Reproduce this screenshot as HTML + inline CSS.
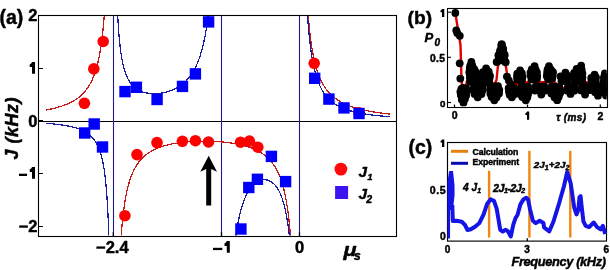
<!DOCTYPE html>
<html><head><meta charset="utf-8"><style>
html,body{margin:0;padding:0;background:#fff;width:610px;height:270px;overflow:hidden}
svg{display:block;will-change:transform}
text{stroke:#000;stroke-width:0.45px;stroke-linejoin:round}
</style></head><body>
<svg width="610" height="270" viewBox="0 0 610 270">
<rect width="610" height="270" fill="#fff"/>
<rect x="38.5" y="15.5" width="358" height="221" fill="none" stroke="#000" stroke-width="1.1"/>
<line x1="38.5" y1="121.5" x2="396.5" y2="121.5" stroke="#000" stroke-width="1.1"/>
<line x1="38.5" y1="68.5" x2="43" y2="68.5" stroke="#000" stroke-width="1"/>
<line x1="38.5" y1="173.5" x2="43" y2="173.5" stroke="#000" stroke-width="1"/>
<line x1="38.5" y1="226.5" x2="43" y2="226.5" stroke="#000" stroke-width="1"/>
<line x1="38.5" y1="121" x2="43" y2="121" stroke="#000" stroke-width="2"/>
<line x1="113.5" y1="15.5" x2="113.5" y2="236.5" stroke="#1e1a8c" stroke-width="1.1"/>
<line x1="221.5" y1="15.5" x2="221.5" y2="236.5" stroke="#1e1a8c" stroke-width="1.1"/>
<line x1="299.5" y1="15.5" x2="299.5" y2="236.5" stroke="#1e1a8c" stroke-width="1.1"/>
<line x1="113.3" y1="232.3" x2="113.3" y2="236.5" stroke="#000" stroke-width="1.3"/>
<line x1="221.5" y1="232.3" x2="221.5" y2="236.5" stroke="#000" stroke-width="1.3"/>
<line x1="299.5" y1="232.3" x2="299.5" y2="236.5" stroke="#000" stroke-width="1.3"/>
<defs><clipPath id="ca"><rect x="38.8" y="16" width="357" height="219.6"/></clipPath></defs>
<g clip-path="url(#ca)"><path d="M45.77,110.12 L46.76,109.93 L47.75,109.73 L48.73,109.53 L49.72,109.33 L50.71,109.11 L51.69,108.89 L52.68,108.66 L53.67,108.42 L54.64,108.18 L55.61,107.93 L56.58,107.67 L57.55,107.39 L58.52,107.11 L59.49,106.82 L60.46,106.52 L61.41,106.21 L62.37,105.89 L63.32,105.55 L64.27,105.20 L65.21,104.85 L66.15,104.47 L67.09,104.08 L68.01,103.69 L68.93,103.27 L69.85,102.84 L70.75,102.39 L71.65,101.92 L72.54,101.45 L73.43,100.94 L74.30,100.43 L75.15,99.90 L76.00,99.35 L76.84,98.78 L77.66,98.19 L78.46,97.59 L79.25,96.97 L80.03,96.32 L80.80,95.66 L81.56,94.97 L82.29,94.27 L83.01,93.55 L83.71,92.81 L84.40,92.05 L85.07,91.27 L85.70,90.49 L86.32,89.70 L86.93,88.90 L87.51,88.07 L88.08,87.24 L88.63,86.39 L89.17,85.52 L89.69,84.65 L90.19,83.76 L90.67,82.86 L91.14,81.96 L91.59,81.05 L92.03,80.14 L92.45,79.22 L92.85,78.30 L93.25,77.35 L93.63,76.39 L94.00,75.45 L94.35,74.50 L94.71,73.52 L95.04,72.56 L95.36,71.60 L95.68,70.61 L95.98,69.63 L96.28,68.62 L96.56,67.63 L96.83,66.67 L97.10,65.67 L97.36,64.64 L97.62,63.64 L97.87,62.60 L98.10,61.60 L98.34,60.57 L98.55,59.58 L98.77,58.56 L98.99,57.51 L99.19,56.51 L99.39,55.48 L99.59,54.41 L99.77,53.41 L99.96,52.38 L100.14,51.31 L100.31,50.32 L100.48,49.29 L100.64,48.24 L100.81,47.16 L100.96,46.16 L101.11,45.14 L101.26,44.08 L101.41,43.00 L101.56,41.89 L101.70,40.88 L101.83,39.84 L101.97,38.78 L102.10,37.69 L102.23,36.57 L102.35,35.57 L102.47,34.54 L102.58,33.49 L102.70,32.42 L102.82,31.32 L102.94,30.19 L103.05,29.04 L103.15,28.03 L103.25,26.99 L103.35,25.94 L103.45,24.86 L103.55,23.76 L103.66,22.63 L103.76,21.48 L103.86,20.30 L103.94,19.29 L104.02,18.27 L104.11,17.23 L104.19,16.17 L104.27,15.08 L104.36,13.98 L104.44,12.85 L104.53,11.70 L104.61,10.52 L104.69,9.32 L104.78,8.09 L104.84,7.09 L104.91,6.08 L104.98,5.04 L105.04,3.99 L105.11,2.92 L105.18,1.83 L105.24,0.72 L105.31,-0.41 L105.38,-1.56 L105.45,-2.74 L105.51,-3.93 L105.58,-5.00 M119.60,259.90 L119.69,258.12 L119.78,256.38 L119.88,254.69 L119.97,253.05 L120.06,251.44 L120.16,249.88 L120.25,248.35 L120.34,246.86 L120.44,245.41 L120.53,243.99 L120.62,242.61 L120.72,241.25 L120.81,239.93 L120.90,238.64 L121.00,237.38 L121.09,236.15 L121.18,234.94 L121.28,233.76 L121.37,232.60 L121.47,231.47 L121.56,230.37 L121.65,229.28 L121.75,228.22 L121.84,227.18 L121.93,226.16 L122.03,225.17 L122.17,223.71 L122.31,222.29 L122.45,220.91 L122.59,219.57 L122.73,218.27 L122.87,217.01 L123.01,215.78 L123.15,214.58 L123.29,213.42 L123.43,212.28 L123.57,211.18 L123.71,210.10 L123.85,209.05 L123.99,208.03 L124.13,207.03 L124.31,205.74 L124.50,204.48 L124.69,203.27 L124.87,202.10 L125.06,200.96 L125.25,199.85 L125.43,198.78 L125.62,197.73 L125.81,196.72 L125.99,195.74 L126.23,194.55 L126.46,193.40 L126.69,192.28 L126.93,191.21 L127.16,190.17 L127.39,189.16 L127.63,188.19 L127.91,187.05 L128.19,185.97 L128.47,184.92 L128.75,183.90 L129.03,182.92 L129.36,181.82 L129.68,180.77 L130.01,179.75 L130.34,178.77 L130.71,177.70 L131.08,176.67 L131.46,175.68 L131.83,174.74 L132.25,173.71 L132.67,172.73 L133.09,171.80 L133.56,170.80 L134.02,169.85 L134.49,168.93 L135.00,167.98 L135.52,167.06 L136.03,166.19 L136.59,165.28 L137.15,164.42 L137.76,163.53 L138.37,162.68 L138.97,161.87 L139.63,161.05 L140.28,160.26 L140.98,159.46 L141.68,158.70 L142.38,157.97 L143.13,157.24 L143.88,156.54 L144.67,155.84 L145.46,155.18 L146.26,154.54 L147.10,153.91 L147.94,153.31 L148.78,152.73 L149.62,152.19 L150.50,151.64 L151.39,151.12 L152.28,150.63 L153.17,150.16 L154.10,149.69 L155.03,149.25 L155.97,148.82 L156.90,148.42 L157.83,148.04 L158.77,147.67 L159.75,147.30 L160.73,146.96 L161.71,146.62 L162.69,146.31 L163.67,146.01 L164.65,145.72 L165.63,145.45 L166.61,145.19 L167.59,144.94 L168.57,144.70 L169.55,144.48 L170.53,144.26 L171.51,144.06 L172.54,143.85 L173.57,143.66 L174.60,143.48 L175.62,143.30 L176.65,143.13 L177.68,142.98 L178.70,142.83 L179.73,142.69 L180.76,142.55 L181.79,142.43 L182.81,142.31 L183.84,142.20 L184.87,142.09 L185.89,141.99 L186.92,141.90 L187.95,141.81 L188.98,141.73 L190.00,141.66 L191.03,141.59 L192.06,141.53 L193.08,141.47 L194.11,141.42 L195.14,141.38 L196.17,141.34 L197.19,141.30 L198.22,141.27 L199.25,141.24 L200.27,141.22 L201.30,141.21 L202.33,141.20 L203.36,141.19 L204.38,141.19 L205.41,141.20 L206.44,141.21 L207.46,141.22 L208.49,141.24 L209.52,141.27 L210.55,141.30 L211.57,141.33 L212.60,141.37 L213.63,141.42 L214.65,141.47 L215.68,141.52 L216.71,141.58 L217.74,141.65 L218.76,141.72 L219.79,141.80 L220.82,141.88 L221.84,141.97 L222.87,142.06 L223.90,142.16 L224.93,142.27 L225.95,142.38 L226.98,142.50 L228.01,142.63 L229.03,142.76 L230.06,142.90 L231.09,143.05 L232.12,143.20 L233.14,143.37 L234.17,143.54 L235.20,143.72 L236.22,143.91 L237.25,144.11 L238.23,144.30 L239.21,144.51 L240.19,144.73 L241.17,144.95 L242.15,145.19 L243.13,145.44 L244.11,145.70 L245.09,145.97 L246.07,146.25 L247.06,146.55 L248.04,146.86 L249.02,147.18 L250.00,147.53 L250.98,147.88 L251.96,148.26 L252.89,148.63 L253.82,149.02 L254.76,149.43 L255.69,149.86 L256.63,150.31 L257.56,150.78 L258.45,151.25 L259.33,151.74 L260.22,152.26 L261.11,152.81 L262.00,153.38 L262.84,153.95 L263.68,154.55 L264.52,155.17 L265.31,155.80 L266.10,156.45 L266.90,157.14 L267.64,157.82 L268.39,158.54 L269.14,159.29 L269.84,160.03 L270.54,160.81 L271.19,161.58 L271.85,162.38 L272.50,163.22 L273.11,164.04 L273.71,164.89 L274.27,165.73 L274.83,166.59 L275.39,167.51 L275.91,168.38 L276.42,169.29 L276.94,170.25 L277.40,171.16 L277.87,172.11 L278.34,173.10 L278.76,174.03 L279.18,175.00 L279.60,176.02 L279.97,176.95 L280.34,177.93 L280.72,178.94 L281.09,180.00 L281.42,180.96 L281.74,181.96 L282.07,182.99 L282.40,184.07 L282.72,185.18 L283.00,186.18 L283.28,187.21 L283.57,188.27 L283.85,189.37 L284.13,190.52 L284.36,191.51 L284.59,192.52 L284.83,193.57 L285.06,194.66 L285.29,195.78 L285.53,196.94 L285.76,198.14 L285.95,199.13 L286.13,200.14 L286.32,201.19 L286.51,202.27 L286.69,203.38 L286.88,204.52 L287.07,205.70 L287.25,206.91 L287.44,208.16 L287.63,209.45 L287.77,210.45 L287.91,211.47 L288.05,212.51 L288.19,213.58 L288.33,214.68 L288.47,215.81 L288.61,216.97 L288.75,218.15 L288.89,219.37 L289.03,220.62 L289.17,221.91 L289.31,223.23 L289.45,224.59 L289.59,225.99 L289.73,227.43 L289.87,228.91 L289.96,229.92 L290.05,230.95 L290.15,232.00 L290.24,233.08 L290.33,234.17 L290.43,235.29 L290.52,236.44 L290.61,237.60 L290.71,238.80 L290.80,240.02 L290.90,241.26 L290.99,242.53 L291.08,243.84 L291.18,245.17 L291.27,246.53 L291.36,247.92 L291.46,249.35 L291.55,250.81 L291.64,252.30 L291.74,253.84 L291.83,255.41 L291.92,257.02 L292.02,258.67 L292.11,260.00 M306.86,-4.90 L306.93,-3.72 L307.00,-2.56 L307.07,-1.42 L307.14,-0.30 L307.20,0.80 L307.27,1.88 L307.34,2.94 L307.41,3.98 L307.48,5.01 L307.54,6.02 L307.63,7.33 L307.73,8.63 L307.82,9.89 L307.91,11.12 L308.00,12.33 L308.09,13.52 L308.18,14.68 L308.27,15.81 L308.36,16.93 L308.45,18.02 L308.54,19.08 L308.63,20.13 L308.72,21.16 L308.81,22.17 L308.93,23.40 L309.04,24.60 L309.15,25.78 L309.27,26.93 L309.38,28.05 L309.49,29.15 L309.61,30.22 L309.72,31.27 L309.83,32.29 L309.95,33.30 L310.08,34.48 L310.22,35.62 L310.35,36.74 L310.49,37.83 L310.63,38.90 L310.76,39.94 L310.90,40.95 L311.06,42.10 L311.22,43.23 L311.37,44.32 L311.53,45.38 L311.69,46.42 L311.85,47.43 L312.03,48.55 L312.21,49.64 L312.39,50.70 L312.57,51.74 L312.76,52.74 L312.96,53.84 L313.16,54.90 L313.37,55.93 L313.57,56.94 L313.80,58.02 L314.03,59.06 L314.25,60.08 L314.48,61.06 L314.73,62.11 L314.98,63.13 L315.23,64.11 L315.50,65.15 L315.77,66.15 L316.04,67.12 L316.34,68.14 L316.63,69.12 L316.95,70.14 L317.27,71.12 L317.58,72.07 L317.92,73.05 L318.26,74.00 L318.63,74.97 L318.99,75.90 L319.37,76.86 L319.78,77.83 L320.19,78.76 L320.62,79.71 L321.05,80.62 L321.50,81.54 L321.98,82.46 L322.46,83.34 L322.95,84.23 L323.48,85.12 L324.02,86.01 L324.56,86.86 L325.13,87.71 L325.72,88.55 L326.33,89.38 L326.94,90.18 L327.58,90.96 L328.24,91.74 L328.91,92.51 L329.59,93.25 L330.30,93.97 L331.02,94.69 L331.77,95.39 L332.52,96.06 L333.29,96.72 L334.08,97.37 L334.88,97.99 L335.69,98.59 L336.51,99.17 L337.35,99.74 L338.18,100.29 L339.05,100.83 L339.91,101.34 L340.79,101.84 L341.67,102.32 L342.58,102.80 L343.49,103.25 L344.39,103.68 L345.32,104.11 L346.25,104.52 L347.18,104.91 L348.11,105.29 L349.06,105.67 L350.01,106.02 L350.97,106.37 L351.92,106.70 L352.87,107.02 L353.82,107.33 L354.80,107.63 L355.77,107.93 L356.75,108.21 L357.72,108.49 L358.69,108.75 L359.67,109.01 L360.64,109.25 L361.62,109.49 L362.59,109.72 L363.57,109.95 L364.56,110.17 L365.56,110.39 L366.56,110.60 L367.56,110.80 L368.55,111.00 L369.55,111.19 L370.55,111.37 L371.54,111.55 L372.54,111.73 L373.54,111.90 L374.54,112.06 L375.53,112.22 L376.53,112.38 L377.53,112.53 L378.52,112.68 L379.52,112.83 L380.52,112.97 L381.52,113.11 L382.51,113.24 L383.51,113.37 L384.51,113.50 L385.50,113.63 L386.50,113.75 L387.50,113.87 L388.50,113.98 L389.49,114.10 L390.04,114.16" fill="none" stroke="#c41a1a" stroke-width="1.25" shape-rendering="crispEdges"/>
<path d="M45.77,123.29 L46.78,123.36 L47.78,123.44 L48.78,123.52 L49.79,123.61 L50.79,123.70 L51.79,123.79 L52.80,123.88 L53.80,123.98 L54.81,124.09 L55.81,124.20 L56.81,124.31 L57.82,124.43 L58.82,124.55 L59.82,124.68 L60.83,124.82 L61.83,124.96 L62.84,125.11 L63.84,125.26 L64.83,125.43 L65.81,125.59 L66.80,125.77 L67.79,125.96 L68.77,126.16 L69.76,126.36 L70.75,126.58 L71.74,126.81 L72.72,127.05 L73.69,127.31 L74.66,127.57 L75.63,127.86 L76.60,128.16 L77.56,128.47 L78.51,128.80 L79.46,129.16 L80.40,129.53 L81.34,129.92 L82.26,130.34 L83.16,130.77 L84.07,131.23 L84.95,131.72 L85.82,132.23 L86.67,132.77 L87.51,133.33 L88.33,133.93 L89.13,134.55 L89.90,135.20 L90.66,135.87 L91.39,136.58 L92.10,137.31 L92.78,138.07 L93.43,138.85 L94.05,139.64 L94.65,140.46 L95.22,141.29 L95.78,142.16 L96.29,143.02 L96.80,143.92 L97.26,144.81 L97.72,145.72 L98.15,146.65 L98.57,147.60 L98.95,148.53 L99.32,149.47 L99.67,150.42 L100.01,151.37 L100.33,152.33 L100.64,153.34 L100.95,154.34 L101.23,155.34 L101.50,156.33 L101.75,157.30 L102.00,158.31 L102.23,159.31 L102.47,160.35 L102.68,161.36 L102.90,162.41 L103.10,163.43 L103.30,164.49 L103.49,165.51 L103.67,166.57 L103.84,167.57 L104.01,168.60 L104.17,169.68 L104.32,170.69 L104.47,171.74 L104.63,172.83 L104.76,173.83 L104.89,174.86 L105.03,175.93 L105.16,177.05 L105.28,178.05 L105.40,179.09 L105.51,180.16 L105.63,181.27 L105.75,182.41 L105.85,183.43 L105.95,184.47 L106.05,185.55 L106.15,186.65 L106.25,187.80 L106.35,188.98 L106.43,189.99 L106.52,191.03 L106.60,192.10 L106.68,193.20 L106.77,194.33 L106.85,195.49 L106.93,196.69 L107.02,197.92 L107.08,198.94 L107.15,199.97 L107.22,201.04 L107.29,202.13 L107.35,203.25 L107.42,204.39 L107.49,205.57 L107.55,206.77 L107.62,208.01 L107.69,209.28 L107.75,210.59 L107.80,211.59 L107.85,212.62 L107.90,213.66 L107.95,214.73 L108.00,215.82 L108.05,216.94 L108.11,218.08 L108.16,219.24 L108.21,220.43 L108.26,221.65 L108.31,222.90 L108.36,224.17 L108.41,225.48 L108.46,226.82 L108.51,228.19 L108.56,229.59 L108.61,231.02 L108.66,232.50 L108.69,233.50 L108.72,234.52 L108.76,235.56 L108.79,236.61 L108.82,237.69 L108.86,238.78 L108.89,239.89 L108.92,241.02 L108.96,242.17 L108.99,243.35 L109.03,244.54 L109.06,245.76 L109.09,246.99 L109.13,248.26 L109.16,249.54 L109.19,250.86 L109.23,252.19 L109.26,253.56 L109.29,254.95 L109.33,256.36 L109.36,257.81 L109.39,259.29 L109.41,260.00 M116.83,-4.53 L116.88,-3.03 L116.94,-1.56 L116.99,-0.14 L117.05,1.25 L117.10,2.61 L117.15,3.93 L117.21,5.22 L117.26,6.48 L117.32,7.71 L117.37,8.91 L117.43,10.09 L117.48,11.24 L117.54,12.36 L117.59,13.45 L117.64,14.53 L117.70,15.57 L117.75,16.60 L117.81,17.60 L117.89,19.07 L117.97,20.49 L118.05,21.87 L118.13,23.20 L118.22,24.50 L118.30,25.76 L118.38,26.98 L118.46,28.17 L118.54,29.32 L118.62,30.44 L118.71,31.53 L118.79,32.60 L118.87,33.63 L118.95,34.64 L119.06,35.94 L119.17,37.19 L119.28,38.41 L119.39,39.58 L119.50,40.72 L119.60,41.82 L119.71,42.89 L119.82,43.92 L119.93,44.92 L120.07,46.13 L120.20,47.30 L120.34,48.42 L120.48,49.51 L120.61,50.55 L120.75,51.56 L120.91,52.73 L121.08,53.85 L121.24,54.93 L121.40,55.97 L121.57,56.97 L121.76,58.08 L121.95,59.15 L122.14,60.18 L122.33,61.16 L122.55,62.24 L122.76,63.27 L122.98,64.26 L123.23,65.32 L123.47,66.32 L123.74,67.39 L124.02,68.40 L124.29,69.37 L124.59,70.38 L124.89,71.33 L125.21,72.32 L125.57,73.33 L125.92,74.29 L126.30,75.25 L126.71,76.23 L127.12,77.15 L127.56,78.07 L128.02,78.98 L128.51,79.89 L129.03,80.78 L129.57,81.66 L130.14,82.51 L130.74,83.34 L131.37,84.14 L132.02,84.92 L132.70,85.66 L133.41,86.37 L134.15,87.05 L134.91,87.70 L135.70,88.32 L136.52,88.90 L137.36,89.45 L138.23,89.96 L139.13,90.44 L140.06,90.89 L140.98,91.29 L141.94,91.66 L142.89,91.99 L143.87,92.30 L144.85,92.56 L145.83,92.80 L146.81,93.00 L147.82,93.17 L148.83,93.32 L149.83,93.44 L150.84,93.53 L151.85,93.60 L152.86,93.64 L153.86,93.66 L154.87,93.65 L155.88,93.62 L156.89,93.57 L157.89,93.50 L158.90,93.41 L159.91,93.29 L160.92,93.16 L161.92,93.00 L162.93,92.82 L163.94,92.62 L164.92,92.40 L165.90,92.17 L166.88,91.91 L167.86,91.62 L168.84,91.32 L169.80,91.00 L170.75,90.65 L171.70,90.29 L172.63,89.91 L173.55,89.50 L174.48,89.07 L175.38,88.63 L176.28,88.15 L177.18,87.66 L178.05,87.14 L178.92,86.60 L179.76,86.05 L180.61,85.47 L181.42,84.87 L182.24,84.24 L183.03,83.61 L183.79,82.96 L184.56,82.28 L185.29,81.59 L186.03,80.87 L186.73,80.14 L187.41,79.40 L188.10,78.63 L188.75,77.86 L189.40,77.05 L190.03,76.23 L190.63,75.42 L191.23,74.57 L191.80,73.73 L192.34,72.89 L192.89,72.02 L193.41,71.15 L193.92,70.25 L194.41,69.36 L194.90,68.44 L195.37,67.53 L195.83,66.59 L196.27,65.67 L196.70,64.72 L197.11,63.79 L197.52,62.83 L197.90,61.90 L198.28,60.94 L198.66,59.94 L199.02,58.98 L199.37,57.99 L199.72,56.97 L200.05,56.00 L200.38,54.99 L200.70,53.95 L201.00,52.97 L201.30,51.95 L201.60,50.91 L201.88,49.93 L202.15,48.92 L202.42,47.88 L202.69,46.81 L202.94,45.82 L203.18,44.80 L203.43,43.76 L203.67,42.68 L203.89,41.70 L204.11,40.69 L204.33,39.66 L204.54,38.60 L204.76,37.51 L204.98,36.39 L205.17,35.39 L205.36,34.36 L205.55,33.31 L205.74,32.23 L205.93,31.12 L206.12,29.99 L206.29,28.99 L206.45,27.98 L206.61,26.94 L206.78,25.87 L206.94,24.79 L207.10,23.67 L207.27,22.54 L207.43,21.37 L207.57,20.38 L207.70,19.37 L207.84,18.33 L207.98,17.28 L208.11,16.20 L208.25,15.11 L208.38,13.98 L208.52,12.84 L208.66,11.67 L208.79,10.48 L208.93,9.25 L209.04,8.26 L209.15,7.24 L209.26,6.21 L209.36,5.16 L209.47,4.09 L209.58,3.00 L209.69,1.89 L209.80,0.76 L209.91,-0.39 L210.02,-1.56 L210.13,-2.76 L210.24,-3.98 L210.35,-5.00 M233.12,259.82 L233.22,258.77 L233.32,257.74 L233.41,256.72 L233.51,255.72 L233.63,254.54 L233.75,253.39 L233.86,252.26 L233.98,251.15 L234.10,250.06 L234.21,248.99 L234.33,247.94 L234.45,246.92 L234.56,245.91 L234.70,244.75 L234.83,243.63 L234.97,242.52 L235.11,241.44 L235.24,240.38 L235.38,239.34 L235.52,238.33 L235.65,237.33 L235.81,236.22 L235.96,235.13 L236.12,234.07 L236.27,233.03 L236.43,232.01 L236.59,231.01 L236.76,229.92 L236.94,228.85 L237.11,227.81 L237.29,226.79 L237.46,225.80 L237.65,224.72 L237.85,223.67 L238.04,222.65 L238.24,221.65 L238.45,220.58 L238.67,219.54 L238.88,218.53 L239.09,217.54 L239.33,216.49 L239.56,215.48 L239.79,214.49 L240.05,213.45 L240.30,212.44 L240.55,211.46 L240.83,210.44 L241.10,209.44 L241.39,208.42 L241.68,207.42 L241.97,206.46 L242.28,205.46 L242.60,204.50 L242.93,203.52 L243.26,202.57 L243.61,201.59 L243.98,200.61 L244.35,199.66 L244.73,198.70 L245.12,197.78 L245.53,196.85 L245.96,195.92 L246.41,194.98 L246.87,194.05 L247.34,193.17 L247.83,192.29 L248.33,191.42 L248.86,190.56 L249.40,189.72 L249.99,188.87 L250.59,188.04 L251.21,187.24 L251.85,186.46 L252.53,185.70 L253.24,184.97 L253.97,184.26 L254.73,183.59 L255.53,182.95 L256.35,182.36 L257.20,181.81 L258.08,181.32 L258.99,180.88 L259.93,180.50 L260.88,180.19 L261.85,179.95 L262.84,179.79 L263.86,179.71 L264.87,179.71 L265.88,179.79 L266.87,179.96 L267.84,180.21 L268.80,180.54 L269.73,180.95 L270.62,181.42 L271.48,181.95 L272.30,182.54 L273.08,183.17 L273.83,183.86 L274.55,184.59 L275.23,185.35 L275.88,186.13 L276.50,186.95 L277.08,187.79 L277.65,188.66 L278.17,189.52 L278.68,190.42 L279.16,191.33 L279.63,192.27 L280.06,193.17 L280.47,194.09 L280.87,195.05 L281.26,196.02 L281.63,196.99 L281.98,197.95 L282.31,198.90 L282.64,199.90 L282.96,200.87 L283.25,201.83 L283.54,202.83 L283.81,203.80 L284.08,204.81 L284.34,205.78 L284.59,206.79 L284.84,207.84 L285.08,208.85 L285.31,209.89 L285.52,210.88 L285.74,211.90 L285.95,212.96 L286.15,213.95 L286.34,214.98 L286.54,216.03 L286.73,217.13 L286.90,218.14 L287.08,219.19 L287.25,220.27 L287.43,221.38 L287.59,222.40 L287.74,223.45 L287.90,224.52 L288.05,225.63 L288.19,226.63 L288.32,227.65 L288.46,228.70 L288.60,229.78 L288.73,230.88 L288.87,232.02 L288.99,233.01 L289.10,234.03 L289.22,235.08 L289.34,236.15 L289.45,237.25 L289.57,238.37 L289.69,239.52 L289.80,240.70 L289.90,241.71 L290.00,242.74 L290.09,243.79 L290.19,244.86 L290.29,245.96 L290.39,247.08 L290.48,248.23 L290.58,249.40 L290.68,250.60 L290.78,251.83 L290.85,252.83 L290.93,253.85 L291.01,254.89 L291.09,255.95 L291.16,257.03 L291.24,258.14 L291.32,259.26 L291.38,260.00 M306.32,-4.95 L306.39,-3.60 L306.46,-2.27 L306.52,-0.97 L306.59,0.31 L306.66,1.56 L306.73,2.79 L306.80,3.99 L306.86,5.18 L306.93,6.34 L307.00,7.48 L307.07,8.60 L307.14,9.70 L307.20,10.78 L307.27,11.85 L307.34,12.89 L307.41,13.92 L307.48,14.92 L307.57,16.24 L307.66,17.53 L307.75,18.79 L307.84,20.02 L307.93,21.23 L308.02,22.41 L308.11,23.57 L308.20,24.70 L308.29,25.81 L308.38,26.90 L308.47,27.96 L308.56,29.00 L308.65,30.02 L308.74,31.03 L308.86,32.25 L308.97,33.45 L309.08,34.61 L309.20,35.75 L309.31,36.87 L309.42,37.95 L309.54,39.02 L309.65,40.05 L309.76,41.07 L309.90,42.26 L310.04,43.42 L310.17,44.55 L310.31,45.65 L310.44,46.72 L310.58,47.77 L310.72,48.79 L310.85,49.78 L311.01,50.91 L311.17,52.01 L311.33,53.08 L311.49,54.12 L311.65,55.14 L311.80,56.13 L311.99,57.22 L312.17,58.29 L312.35,59.32 L312.53,60.33 L312.73,61.43 L312.94,62.49 L313.14,63.52 L313.35,64.52 L313.57,65.60 L313.80,66.64 L314.03,67.65 L314.25,68.63 L314.50,69.67 L314.75,70.67 L315.00,71.64 L315.27,72.67 L315.54,73.66 L315.84,74.69 L316.13,75.68 L316.43,76.64 L316.74,77.64 L317.06,78.59 L317.40,79.58 L317.74,80.53 L318.10,81.50 L318.47,82.44 L318.85,83.39 L319.26,84.36 L319.67,85.28 L320.10,86.22 L320.55,87.16 L321.01,88.06 L321.48,88.96 L321.98,89.86 L322.50,90.76 L323.02,91.62 L323.57,92.48 L324.13,93.32 L324.72,94.16 L325.33,94.99 L325.97,95.80 L326.60,96.57 L327.26,97.33 L327.94,98.08 L328.64,98.81 L329.37,99.53 L330.12,100.23 L330.86,100.90 L331.63,101.55 L332.43,102.18 L333.24,102.80 L334.06,103.39 L334.90,103.96 L335.76,104.52 L336.62,105.05 L337.50,105.56 L338.39,106.05 L339.29,106.53 L340.20,106.98 L341.11,107.41 L342.04,107.83 L342.97,108.23 L343.90,108.61 L344.85,108.98 L345.80,109.33 L346.75,109.67 L347.70,109.99 L348.65,110.30 L349.63,110.60 L350.60,110.89 L351.58,111.17 L352.55,111.43 L353.53,111.68 L354.50,111.93 L355.48,112.16 L356.47,112.39 L357.47,112.60 L358.47,112.81 L359.46,113.02 L360.46,113.21 L361.46,113.40 L362.46,113.58 L363.45,113.75 L364.45,113.92 L365.45,114.08 L366.44,114.23 L367.44,114.38 L368.44,114.52 L369.44,114.66 L370.43,114.80 L371.43,114.92 L372.43,115.05 L373.43,115.17 L374.42,115.29 L375.42,115.40 L376.42,115.51 L377.41,115.62 L378.41,115.72 L379.41,115.82 L380.41,115.91 L381.40,116.01 L382.40,116.10 L383.40,116.19 L384.39,116.27 L385.39,116.35 L386.39,116.43 L387.39,116.51 L388.38,116.59 L389.40,116.66 L390.04,116.71" fill="none" stroke="#1c1ca0" stroke-width="1.25" shape-rendering="crispEdges"/>
<circle cx="103.2" cy="41.5" r="5.8" fill="#ff0000"/>
<circle cx="93.8" cy="68.9" r="5.8" fill="#ff0000"/>
<circle cx="84.4" cy="103.3" r="5.8" fill="#ff0000"/>
<circle cx="137" cy="154.6" r="5.8" fill="#ff0000"/>
<circle cx="157" cy="142.6" r="5.8" fill="#ff0000"/>
<circle cx="182.4" cy="141.3" r="5.8" fill="#ff0000"/>
<circle cx="195.4" cy="140.7" r="5.8" fill="#ff0000"/>
<circle cx="208.5" cy="142" r="5.8" fill="#ff0000"/>
<circle cx="240.6" cy="142.2" r="5.8" fill="#ff0000"/>
<circle cx="249.4" cy="141.1" r="5.8" fill="#ff0000"/>
<circle cx="257.8" cy="147.2" r="5.8" fill="#ff0000"/>
<circle cx="124.9" cy="215.7" r="5.8" fill="#ff0000"/>
<circle cx="314.2" cy="63.3" r="5.8" fill="#ff0000"/>
<circle cx="359" cy="112.8" r="5.8" fill="#ff0000"/>
<rect x="88.50" y="118.30" width="11.4" height="11.4" fill="#0000fa"/>
<rect x="79.00" y="127.30" width="11.4" height="11.4" fill="#0000fa"/>
<rect x="96.80" y="141.30" width="11.4" height="11.4" fill="#0000fa"/>
<rect x="119.30" y="85.90" width="11.4" height="11.4" fill="#0000fa"/>
<rect x="130.70" y="81.60" width="11.4" height="11.4" fill="#0000fa"/>
<rect x="151.40" y="93.80" width="11.4" height="11.4" fill="#0000fa"/>
<rect x="176.80" y="80.70" width="11.4" height="11.4" fill="#0000fa"/>
<rect x="189.70" y="68.20" width="11.4" height="11.4" fill="#0000fa"/>
<rect x="202.90" y="16.20" width="11.4" height="11.4" fill="#0000fa"/>
<rect x="265.70" y="150.70" width="11.4" height="11.4" fill="#0000fa"/>
<rect x="279.90" y="175.90" width="11.4" height="11.4" fill="#0000fa"/>
<rect x="243.10" y="181.80" width="11.4" height="11.4" fill="#0000fa"/>
<rect x="251.70" y="173.60" width="11.4" height="11.4" fill="#0000fa"/>
<rect x="235.20" y="223.30" width="11.4" height="11.4" fill="#0000fa"/>
<rect x="309.00" y="72.60" width="11.4" height="11.4" fill="#0000fa"/>
<rect x="323.20" y="93.40" width="11.4" height="11.4" fill="#0000fa"/>
<rect x="338.30" y="102.20" width="11.4" height="11.4" fill="#0000fa"/>
<rect x="353.30" y="107.80" width="11.4" height="11.4" fill="#0000fa"/>
</g>
<polygon points="208.7,155.8 217,171.8 211.2,169 211.2,205.6 206.2,205.6 206.2,169 200.3,171.8" fill="#000"/>
<text x="-0.6" y="24" font-family="Liberation Sans, sans-serif" font-weight="bold" font-size="19.5">(a)</text>
<text x="37.5" y="21.2" text-anchor="end" font-family="Liberation Sans, sans-serif" font-weight="bold" font-size="16.5">2</text>
<path d="M32,62 h3.0 v11.8 h-3.0 v-6.80 h-2.30 v-2.60 c1.10,-0.20 2.00,-1.20 2.30,-2.40 z" fill="#000"/>
<text x="37.5" y="126.8" text-anchor="end" font-family="Liberation Sans, sans-serif" font-weight="bold" font-size="16.5">0</text>
<rect x="19" y="173.7" width="8" height="2.3" fill="#000"/>
<path d="M32,167 h3.0 v11.8 h-3.0 v-6.80 h-2.30 v-2.60 c1.10,-0.20 2.00,-1.20 2.30,-2.40 z" fill="#000"/>
<text x="37.5" y="232.3" text-anchor="end" font-family="Liberation Sans, sans-serif" font-weight="bold" font-size="16.5">−2</text>
<text x="112.3" y="252.8" text-anchor="middle" font-family="Liberation Sans, sans-serif" font-weight="bold" font-size="16.5">−2.4</text>
<rect x="213" y="247.8" width="9.3" height="2.3" fill="#000"/>
<path d="M226.8,241 h3.0 v11.8 h-3.0 v-6.80 h-2.30 v-2.60 c1.10,-0.20 2.00,-1.20 2.30,-2.40 z" fill="#000"/>
<text x="299.7" y="252.8" text-anchor="middle" font-family="Liberation Sans, sans-serif" font-weight="bold" font-size="16.5">0</text>
<text transform="translate(18,159.4) rotate(-90)" font-family="Liberation Sans, sans-serif" font-weight="bold" font-style="italic" font-size="18" letter-spacing="0.5">J (kHz)</text>
<text x="341" y="256" transform="matrix(1.17,0,0,1,-55.5,0)" font-family="Liberation Sans, sans-serif" font-weight="bold" font-style="italic" font-size="18.5">μ</text>
<text x="354" y="260.3" font-family="Liberation Sans, sans-serif" font-weight="bold" font-style="italic" font-size="12">s</text>
<circle cx="340.9" cy="169.1" r="6.4" fill="#ff0a0a"/>
<rect x="335.1" y="186" width="13" height="13" fill="#3c14f0"/>
<text x="358.6" y="177" font-family="Liberation Sans, sans-serif" font-weight="bold" font-style="italic" font-size="15.3">J</text>
<text x="367.6" y="179.6" font-family="Liberation Sans, sans-serif" font-weight="bold" font-style="italic" font-size="9">1</text>
<text x="358.6" y="199.2" font-family="Liberation Sans, sans-serif" font-weight="bold" font-style="italic" font-size="15.3">J</text>
<text x="366.3" y="202.6" font-family="Liberation Sans, sans-serif" font-weight="bold" font-style="italic" font-size="10.5">2</text>
<text x="407.6" y="24.2" font-family="Liberation Sans, sans-serif" font-weight="bold" font-size="19.2">(b)</text>
<rect x="447.5" y="8.5" width="160" height="99" fill="none" stroke="#000" stroke-width="1.1"/>
<line x1="447.5" y1="12.2" x2="451" y2="12.2" stroke="#000" stroke-width="1.1"/>
<line x1="447.5" y1="57.3" x2="451" y2="57.3" stroke="#000" stroke-width="1.1"/>
<line x1="447.5" y1="102.5" x2="451" y2="102.5" stroke="#000" stroke-width="1.1"/>
<line x1="454.5" y1="107.5" x2="454.5" y2="104.5" stroke="#000" stroke-width="1.2"/>
<line x1="527.5" y1="107.5" x2="527.5" y2="104.5" stroke="#000" stroke-width="1.2"/>
<line x1="600.3" y1="107.5" x2="600.3" y2="104.5" stroke="#000" stroke-width="1.2"/>
<path d="M442,8.9 h2.3 v8.0 h-2.3 v-4.61 h-1.56 v-1.76 c0.75,-0.14 1.36,-0.81 1.56,-1.63 z" fill="#000"/>
<text x="445.3" y="61.7" text-anchor="end" font-family="Liberation Sans, sans-serif" font-weight="bold" font-size="10.3" letter-spacing="0.3">0.5</text>
<text x="445.5" y="106.7" text-anchor="end" font-family="Liberation Sans, sans-serif" font-weight="bold" font-size="9.8">0</text>
<text x="454.7" y="119" text-anchor="middle" font-family="Liberation Sans, sans-serif" font-weight="bold" font-size="10.5">0</text>
<path d="M527,111.4 h2.2 v8.3 h-2.2 v-4.78 h-1.62 v-1.83 c0.77,-0.14 1.41,-0.84 1.62,-1.69 z" fill="#000"/>
<text x="600.5" y="119.5" text-anchor="middle" font-family="Liberation Sans, sans-serif" font-weight="bold" font-size="10.5">2</text>
<text x="556.3" y="120.5" font-family="Liberation Sans, sans-serif" font-weight="bold" font-style="italic" font-size="10" letter-spacing="0.35">τ (ms)</text>
<text x="424.5" y="42.3" font-family="Liberation Sans, sans-serif" font-weight="bold" font-style="italic" font-size="13">P</text>
<text x="434.5" y="46.3" font-family="Liberation Sans, sans-serif" font-weight="bold" font-style="italic" font-size="10">0</text>
<g clip-path="url(#cb)">
<polyline points="455.3,13 460.5,45 461.5,80 463,95 465,90 467,81 471,80.5 480,82 490,82.5 494,85 496.5,80 497.8,67 501.8,50 505.8,66 506.9,73 509,80 516.7,84.5 520,83.3 526.7,82.2 531.1,81.1 535.6,82.2 542.2,82.2 554.4,82.2 562.2,88.9 570,85 582.2,83.3 586.7,82.2 592.5,88.3 600,85 607,84" fill="none" stroke="#e00000" stroke-width="2.4" stroke-linejoin="round"/>
<circle cx="455.3" cy="13" r="3.9" fill="#000"/>
<circle cx="456.3" cy="30.3" r="3.9" fill="#000"/>
<circle cx="457.2" cy="33" r="3.9" fill="#000"/>
<circle cx="459.8" cy="35.8" r="3.9" fill="#000"/>
<circle cx="459.7" cy="63.3" r="3.9" fill="#000"/>
<circle cx="460.3" cy="78.6" r="3.9" fill="#000"/>
<circle cx="496.75" cy="62.03" r="4.0" fill="#000"/>
<circle cx="498.90" cy="59.03" r="4.0" fill="#000"/>
<circle cx="498.49" cy="55.14" r="4.0" fill="#000"/>
<circle cx="500.04" cy="51.03" r="4.0" fill="#000"/>
<circle cx="501.36" cy="47.32" r="4.0" fill="#000"/>
<circle cx="501.60" cy="44.43" r="4.0" fill="#000"/>
<circle cx="501.68" cy="44.56" r="4.0" fill="#000"/>
<circle cx="503.07" cy="48.84" r="4.0" fill="#000"/>
<circle cx="503.09" cy="51.91" r="4.0" fill="#000"/>
<circle cx="504.67" cy="54.89" r="4.0" fill="#000"/>
<circle cx="504.26" cy="59.73" r="4.0" fill="#000"/>
<circle cx="505.64" cy="62.17" r="4.0" fill="#000"/>
<circle cx="500.70" cy="50.80" r="3.9" fill="#000"/>
<circle cx="500.70" cy="54.00" r="3.9" fill="#000"/>
<circle cx="503.90" cy="54.00" r="3.9" fill="#000"/>
<circle cx="500.70" cy="57.20" r="3.9" fill="#000"/>
<circle cx="503.90" cy="57.20" r="3.9" fill="#000"/>
<circle cx="500.70" cy="60.40" r="3.9" fill="#000"/>
<circle cx="503.90" cy="60.40" r="3.9" fill="#000"/>
<circle cx="506.9" cy="76.6" r="3.9" fill="#000"/>
<circle cx="508.8" cy="80.5" r="3.9" fill="#000"/>
<circle cx="510.8" cy="84.4" r="3.9" fill="#000"/>
<circle cx="471.39" cy="61.99" r="3.9" fill="#000"/>
<circle cx="470.27" cy="65.54" r="3.9" fill="#000"/>
<circle cx="472.23" cy="65.47" r="3.9" fill="#000"/>
<circle cx="469.78" cy="68.22" r="3.9" fill="#000"/>
<circle cx="474.26" cy="69.06" r="3.9" fill="#000"/>
<circle cx="469.31" cy="72.13" r="3.9" fill="#000"/>
<circle cx="472.30" cy="72.24" r="3.9" fill="#000"/>
<circle cx="475.62" cy="71.72" r="3.9" fill="#000"/>
<circle cx="469.93" cy="75.52" r="3.9" fill="#000"/>
<circle cx="472.68" cy="75.69" r="3.9" fill="#000"/>
<circle cx="475.33" cy="75.63" r="3.9" fill="#000"/>
<circle cx="469.98" cy="78.34" r="3.9" fill="#000"/>
<circle cx="472.85" cy="78.63" r="3.9" fill="#000"/>
<circle cx="475.38" cy="78.38" r="3.9" fill="#000"/>
<circle cx="470.23" cy="81.89" r="3.9" fill="#000"/>
<circle cx="472.87" cy="81.88" r="3.9" fill="#000"/>
<circle cx="475.03" cy="82.00" r="3.9" fill="#000"/>
<circle cx="486.11" cy="68.30" r="3.9" fill="#000"/>
<circle cx="482.90" cy="72.22" r="3.9" fill="#000"/>
<circle cx="486.00" cy="72.04" r="3.9" fill="#000"/>
<circle cx="488.70" cy="71.68" r="3.9" fill="#000"/>
<circle cx="481.45" cy="75.02" r="3.9" fill="#000"/>
<circle cx="485.96" cy="75.47" r="3.9" fill="#000"/>
<circle cx="490.01" cy="75.82" r="3.9" fill="#000"/>
<circle cx="481.39" cy="79.01" r="3.9" fill="#000"/>
<circle cx="485.05" cy="78.59" r="3.9" fill="#000"/>
<circle cx="489.48" cy="78.42" r="3.9" fill="#000"/>
<circle cx="481.47" cy="82.46" r="3.9" fill="#000"/>
<circle cx="485.13" cy="81.90" r="3.9" fill="#000"/>
<circle cx="489.23" cy="82.45" r="3.9" fill="#000"/>
<circle cx="520.07" cy="70.41" r="3.9" fill="#000"/>
<circle cx="517.29" cy="73.54" r="3.9" fill="#000"/>
<circle cx="521.83" cy="73.05" r="3.9" fill="#000"/>
<circle cx="516.98" cy="76.67" r="3.9" fill="#000"/>
<circle cx="519.69" cy="76.97" r="3.9" fill="#000"/>
<circle cx="522.57" cy="76.82" r="3.9" fill="#000"/>
<circle cx="517.27" cy="79.80" r="3.9" fill="#000"/>
<circle cx="519.60" cy="79.73" r="3.9" fill="#000"/>
<circle cx="521.96" cy="80.14" r="3.9" fill="#000"/>
<circle cx="534.57" cy="66.09" r="3.9" fill="#000"/>
<circle cx="531.73" cy="69.45" r="3.9" fill="#000"/>
<circle cx="535.65" cy="69.67" r="3.9" fill="#000"/>
<circle cx="530.49" cy="72.53" r="3.9" fill="#000"/>
<circle cx="534.26" cy="72.54" r="3.9" fill="#000"/>
<circle cx="536.95" cy="72.50" r="3.9" fill="#000"/>
<circle cx="530.58" cy="75.47" r="3.9" fill="#000"/>
<circle cx="533.90" cy="76.30" r="3.9" fill="#000"/>
<circle cx="537.16" cy="76.12" r="3.9" fill="#000"/>
<circle cx="531.53" cy="79.44" r="3.9" fill="#000"/>
<circle cx="534.09" cy="79.41" r="3.9" fill="#000"/>
<circle cx="536.93" cy="78.85" r="3.9" fill="#000"/>
<circle cx="548.98" cy="66.04" r="3.9" fill="#000"/>
<circle cx="547.60" cy="69.50" r="3.9" fill="#000"/>
<circle cx="550.93" cy="69.54" r="3.9" fill="#000"/>
<circle cx="547.18" cy="72.25" r="3.9" fill="#000"/>
<circle cx="549.89" cy="72.54" r="3.9" fill="#000"/>
<circle cx="553.01" cy="72.24" r="3.9" fill="#000"/>
<circle cx="546.77" cy="75.89" r="3.9" fill="#000"/>
<circle cx="549.85" cy="76.04" r="3.9" fill="#000"/>
<circle cx="552.63" cy="75.57" r="3.9" fill="#000"/>
<circle cx="547.96" cy="78.84" r="3.9" fill="#000"/>
<circle cx="549.60" cy="78.88" r="3.9" fill="#000"/>
<circle cx="552.21" cy="78.83" r="3.9" fill="#000"/>
<circle cx="565.44" cy="72.74" r="3.9" fill="#000"/>
<circle cx="560.53" cy="76.52" r="3.9" fill="#000"/>
<circle cx="564.62" cy="76.98" r="3.9" fill="#000"/>
<circle cx="568.50" cy="76.24" r="3.9" fill="#000"/>
<circle cx="561.47" cy="81.28" r="3.9" fill="#000"/>
<circle cx="564.00" cy="80.99" r="3.9" fill="#000"/>
<circle cx="567.14" cy="81.17" r="3.9" fill="#000"/>
<circle cx="581.14" cy="65.64" r="3.9" fill="#000"/>
<circle cx="576.65" cy="68.99" r="3.9" fill="#000"/>
<circle cx="579.44" cy="69.77" r="3.9" fill="#000"/>
<circle cx="581.65" cy="69.59" r="3.9" fill="#000"/>
<circle cx="574.11" cy="73.02" r="3.9" fill="#000"/>
<circle cx="578.55" cy="73.06" r="3.9" fill="#000"/>
<circle cx="582.37" cy="73.52" r="3.9" fill="#000"/>
<circle cx="574.20" cy="77.36" r="3.9" fill="#000"/>
<circle cx="578.37" cy="76.73" r="3.9" fill="#000"/>
<circle cx="582.44" cy="77.45" r="3.9" fill="#000"/>
<circle cx="574.89" cy="81.36" r="3.9" fill="#000"/>
<circle cx="577.85" cy="80.74" r="3.9" fill="#000"/>
<circle cx="582.15" cy="81.09" r="3.9" fill="#000"/>
<circle cx="594.56" cy="74.66" r="3.9" fill="#000"/>
<circle cx="591.28" cy="77.88" r="3.9" fill="#000"/>
<circle cx="593.40" cy="77.76" r="3.9" fill="#000"/>
<circle cx="595.97" cy="77.52" r="3.9" fill="#000"/>
<circle cx="591.44" cy="81.02" r="3.9" fill="#000"/>
<circle cx="595.72" cy="80.88" r="3.9" fill="#000"/>
<circle cx="604.83" cy="73.44" r="3.9" fill="#000"/>
<circle cx="603.96" cy="77.14" r="3.9" fill="#000"/>
<circle cx="607.04" cy="76.89" r="3.9" fill="#000"/>
<circle cx="603.70" cy="80.82" r="3.9" fill="#000"/>
<circle cx="606.23" cy="80.97" r="3.9" fill="#000"/>
<circle cx="461.40" cy="88.86" r="3.9" fill="#000"/>
<circle cx="463.04" cy="88.02" r="3.9" fill="#000"/>
<circle cx="466.17" cy="88.30" r="3.9" fill="#000"/>
<circle cx="460.37" cy="91.83" r="3.9" fill="#000"/>
<circle cx="463.56" cy="91.61" r="3.9" fill="#000"/>
<circle cx="466.19" cy="92.11" r="3.9" fill="#000"/>
<circle cx="460.82" cy="95.01" r="3.9" fill="#000"/>
<circle cx="463.71" cy="95.43" r="3.9" fill="#000"/>
<circle cx="466.14" cy="95.56" r="3.9" fill="#000"/>
<circle cx="461.77" cy="99.44" r="3.9" fill="#000"/>
<circle cx="464.92" cy="99.09" r="3.9" fill="#000"/>
<circle cx="463.47" cy="102.72" r="3.9" fill="#000"/>
<circle cx="474.24" cy="86.28" r="3.9" fill="#000"/>
<circle cx="477.63" cy="86.02" r="3.9" fill="#000"/>
<circle cx="482.56" cy="85.60" r="3.9" fill="#000"/>
<circle cx="473.01" cy="90.01" r="3.9" fill="#000"/>
<circle cx="476.60" cy="89.75" r="3.9" fill="#000"/>
<circle cx="479.77" cy="89.97" r="3.9" fill="#000"/>
<circle cx="482.75" cy="89.95" r="3.9" fill="#000"/>
<circle cx="474.53" cy="93.90" r="3.9" fill="#000"/>
<circle cx="478.01" cy="93.54" r="3.9" fill="#000"/>
<circle cx="481.48" cy="94.12" r="3.9" fill="#000"/>
<circle cx="477.69" cy="97.25" r="3.9" fill="#000"/>
<circle cx="490.27" cy="86.75" r="3.9" fill="#000"/>
<circle cx="494.99" cy="86.14" r="3.9" fill="#000"/>
<circle cx="498.01" cy="86.10" r="3.9" fill="#000"/>
<circle cx="490.20" cy="89.94" r="3.9" fill="#000"/>
<circle cx="494.82" cy="89.66" r="3.9" fill="#000"/>
<circle cx="499.28" cy="89.91" r="3.9" fill="#000"/>
<circle cx="490.41" cy="93.80" r="3.9" fill="#000"/>
<circle cx="494.91" cy="93.50" r="3.9" fill="#000"/>
<circle cx="499.01" cy="93.56" r="3.9" fill="#000"/>
<circle cx="491.66" cy="97.05" r="3.9" fill="#000"/>
<circle cx="494.93" cy="97.46" r="3.9" fill="#000"/>
<circle cx="496.55" cy="97.21" r="3.9" fill="#000"/>
<circle cx="494.33" cy="100.24" r="3.9" fill="#000"/>
<circle cx="508.68" cy="88.19" r="3.9" fill="#000"/>
<circle cx="512.01" cy="87.92" r="3.9" fill="#000"/>
<circle cx="513.94" cy="87.91" r="3.9" fill="#000"/>
<circle cx="508.93" cy="91.38" r="3.9" fill="#000"/>
<circle cx="511.11" cy="90.85" r="3.9" fill="#000"/>
<circle cx="514.87" cy="91.13" r="3.9" fill="#000"/>
<circle cx="509.66" cy="94.64" r="3.9" fill="#000"/>
<circle cx="513.90" cy="94.60" r="3.9" fill="#000"/>
<circle cx="511.85" cy="97.33" r="3.9" fill="#000"/>
<circle cx="520.96" cy="87.29" r="3.9" fill="#000"/>
<circle cx="524.01" cy="86.99" r="3.9" fill="#000"/>
<circle cx="528.11" cy="86.53" r="3.9" fill="#000"/>
<circle cx="520.25" cy="90.15" r="3.9" fill="#000"/>
<circle cx="524.33" cy="90.21" r="3.9" fill="#000"/>
<circle cx="528.23" cy="90.69" r="3.9" fill="#000"/>
<circle cx="520.32" cy="94.14" r="3.9" fill="#000"/>
<circle cx="524.05" cy="94.14" r="3.9" fill="#000"/>
<circle cx="528.13" cy="93.93" r="3.9" fill="#000"/>
<circle cx="522.32" cy="97.10" r="3.9" fill="#000"/>
<circle cx="527.36" cy="97.28" r="3.9" fill="#000"/>
<circle cx="525.81" cy="100.25" r="3.9" fill="#000"/>
<circle cx="535.74" cy="86.51" r="3.9" fill="#000"/>
<circle cx="539.53" cy="86.74" r="3.9" fill="#000"/>
<circle cx="544.08" cy="86.15" r="3.9" fill="#000"/>
<circle cx="534.82" cy="90.55" r="3.9" fill="#000"/>
<circle cx="537.91" cy="90.14" r="3.9" fill="#000"/>
<circle cx="541.44" cy="90.16" r="3.9" fill="#000"/>
<circle cx="545.13" cy="90.49" r="3.9" fill="#000"/>
<circle cx="541.30" cy="94.60" r="3.9" fill="#000"/>
<circle cx="551.55" cy="86.62" r="3.9" fill="#000"/>
<circle cx="555.12" cy="86.54" r="3.9" fill="#000"/>
<circle cx="559.34" cy="87.03" r="3.9" fill="#000"/>
<circle cx="550.90" cy="89.97" r="3.9" fill="#000"/>
<circle cx="555.80" cy="90.58" r="3.9" fill="#000"/>
<circle cx="559.48" cy="89.70" r="3.9" fill="#000"/>
<circle cx="551.36" cy="93.45" r="3.9" fill="#000"/>
<circle cx="555.43" cy="93.58" r="3.9" fill="#000"/>
<circle cx="560.16" cy="93.02" r="3.9" fill="#000"/>
<circle cx="554.43" cy="97.23" r="3.9" fill="#000"/>
<circle cx="556.42" cy="96.74" r="3.9" fill="#000"/>
<circle cx="558.80" cy="96.86" r="3.9" fill="#000"/>
<circle cx="557.21" cy="100.13" r="3.9" fill="#000"/>
<circle cx="568.07" cy="86.41" r="3.9" fill="#000"/>
<circle cx="571.23" cy="86.08" r="3.9" fill="#000"/>
<circle cx="574.51" cy="86.02" r="3.9" fill="#000"/>
<circle cx="566.81" cy="90.62" r="3.9" fill="#000"/>
<circle cx="570.70" cy="90.02" r="3.9" fill="#000"/>
<circle cx="574.29" cy="90.69" r="3.9" fill="#000"/>
<circle cx="570.52" cy="93.96" r="3.9" fill="#000"/>
<circle cx="582.02" cy="86.68" r="3.9" fill="#000"/>
<circle cx="585.27" cy="86.09" r="3.9" fill="#000"/>
<circle cx="589.59" cy="86.69" r="3.9" fill="#000"/>
<circle cx="581.07" cy="90.43" r="3.9" fill="#000"/>
<circle cx="585.43" cy="90.88" r="3.9" fill="#000"/>
<circle cx="589.92" cy="89.98" r="3.9" fill="#000"/>
<circle cx="585.07" cy="94.50" r="3.9" fill="#000"/>
<circle cx="594.87" cy="86.53" r="3.9" fill="#000"/>
<circle cx="597.94" cy="86.19" r="3.9" fill="#000"/>
<circle cx="600.63" cy="86.17" r="3.9" fill="#000"/>
<circle cx="593.97" cy="89.23" r="3.9" fill="#000"/>
<circle cx="598.03" cy="89.11" r="3.9" fill="#000"/>
<circle cx="601.01" cy="89.68" r="3.9" fill="#000"/>
<circle cx="595.10" cy="92.37" r="3.9" fill="#000"/>
<circle cx="598.27" cy="92.93" r="3.9" fill="#000"/>
<circle cx="600.12" cy="92.19" r="3.9" fill="#000"/>
<circle cx="597.99" cy="95.67" r="3.9" fill="#000"/>
<circle cx="603.23" cy="86.49" r="3.9" fill="#000"/>
<circle cx="606.79" cy="86.71" r="3.9" fill="#000"/>
<circle cx="602.84" cy="89.61" r="3.9" fill="#000"/>
<circle cx="606.46" cy="89.03" r="3.9" fill="#000"/>
<circle cx="603.52" cy="92.15" r="3.9" fill="#000"/>
<circle cx="606.99" cy="92.40" r="3.9" fill="#000"/>
<circle cx="605.99" cy="95.55" r="3.9" fill="#000"/>
</g>
<defs><clipPath id="cb"><rect x="448" y="9" width="158.7" height="97.5"/></clipPath></defs>
<text x="408.4" y="154" font-family="Liberation Sans, sans-serif" font-weight="bold" font-size="19.5">(c)</text>
<rect x="447.5" y="142.5" width="159" height="98.6" fill="none" stroke="#000" stroke-width="1.15"/>
<line x1="527.3" y1="238.3" x2="527.3" y2="241" stroke="#000" stroke-width="1.3"/>
<line x1="489.1" y1="170.8" x2="489.1" y2="237.5" stroke="#f0860f" stroke-width="2.4"/>
<line x1="529.4" y1="150.8" x2="529.4" y2="237.5" stroke="#f0860f" stroke-width="2.4"/>
<line x1="570.3" y1="150.8" x2="570.3" y2="237.5" stroke="#f0860f" stroke-width="2.4"/>
<line x1="451" y1="151.3" x2="468" y2="151.3" stroke="#e8800f" stroke-width="3"/>
<line x1="451" y1="163.3" x2="468" y2="163.3" stroke="#0a0ab4" stroke-width="3"/>
<text x="472.5" y="155.3" font-family="Liberation Sans, sans-serif" font-weight="bold" font-size="8.7" letter-spacing="-0.1">Calculation</text>
<text x="472.5" y="165.4" font-family="Liberation Sans, sans-serif" font-weight="bold" font-size="8.7" letter-spacing="-0.08">Experiment</text>
<polygon points="449.2,171 453,171 454.5,185 454.6,195 453.5,205 451.5,210 449.5,210 447.4,200 447.4,182" fill="#1414e6"/>
<line x1="448.7" y1="200" x2="448.8" y2="238.6" stroke="#1414e6" stroke-width="2.6"/>
<polyline points="452.3,205 452.8,221 456.7,220.8 461.7,221.7 465,225 467.5,230 470.8,229.2 475,226.7 479.2,223.3 483.7,214.1 487.2,203.7 490.7,199.3 494.1,201.1 496.7,208.9 498.5,219.3 500.2,229.8 502.8,231.5 505.4,229.8 507.9,231.3 510.8,236.5 513.3,224.6 515.6,217.9 517.5,215 520.4,204.4 523.3,199.6 526.2,197.7 528.1,199.6 530,209.2 532.9,220.8 535.8,223.1 539.6,220.8 543.5,223 544,227.3 549.3,231.3 553.3,222 558.7,204.7 564,186 567.2,172 570.7,183.3 574.2,207.6 576.5,214.4 578.3,209.9 579.5,197.2 580.6,196.1 581.5,205.3 583.4,221.3 585.7,225.9 589.1,227.1 593.7,222.5 597.1,227.1 600.6,229.4 602.9,225.9 605.2,234" fill="none" stroke="#1414e6" stroke-width="4" stroke-linejoin="round"/>
<path d="M442,139.4 h2.3 v7.5 h-2.3 v-4.32 h-1.46 v-1.65 c0.70,-0.13 1.27,-0.76 1.46,-1.53 z" fill="#000"/>
<text x="446.1" y="193.7" text-anchor="end" font-family="Liberation Sans, sans-serif" font-weight="bold" font-size="10.6" letter-spacing="0.5">0.5</text>
<text x="445.9" y="240.3" text-anchor="end" font-family="Liberation Sans, sans-serif" font-weight="bold" font-size="10.4">0</text>
<text x="447.6" y="253.2" text-anchor="middle" font-family="Liberation Sans, sans-serif" font-weight="bold" font-size="10">0</text>
<text x="527" y="253.2" text-anchor="middle" font-family="Liberation Sans, sans-serif" font-weight="bold" font-size="10">3</text>
<text x="606.4" y="253.2" text-anchor="middle" font-family="Liberation Sans, sans-serif" font-weight="bold" font-size="10">6</text>
<text x="511.5" y="265.8" font-family="Liberation Sans, sans-serif" font-weight="bold" font-style="italic" font-size="12.8" letter-spacing="-0.36">Frequency (kHz)</text>
<text x="463" y="191.3" font-family="Liberation Sans, sans-serif" font-weight="bold" font-style="italic" font-size="10.2">4 J<tspan font-size="7" dy="2">1</tspan></text>
<text x="493" y="191.5" font-family="Liberation Sans, sans-serif" font-weight="bold" font-style="italic" font-size="10.8" letter-spacing="-0.55">2J<tspan font-size="7" dy="1.8">1</tspan><tspan dy="-1.8">-2J</tspan><tspan font-size="7" dy="1.8">2</tspan></text>
<text x="533.8" y="167.5" font-family="Liberation Sans, sans-serif" font-weight="bold" font-style="italic" font-size="9.8" letter-spacing="0.05">2J<tspan font-size="7" dy="2">1</tspan><tspan dy="-2">+2J</tspan><tspan font-size="7" dy="2">2</tspan></text>
</svg>
</body></html>
